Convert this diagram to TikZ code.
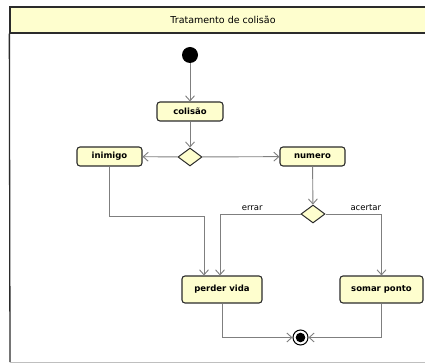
\documentclass[tikz,border=0pt]{standalone}
\usepackage{fontspec}
\setmainfont{DejaVu Sans}
\usetikzlibrary{arrows.meta, shapes.geometric}
\definecolor{umlfill}{HTML}{FEFECE}
\definecolor{umlline}{HTML}{2B2B2B}
\definecolor{flowgray}{HTML}{7F7F7F}

\begin{document}
\begin{tikzpicture}[
    x=1pt, y=-1pt,
    header/.style={
        draw=umlline,
        fill=umlfill,
        line width=1.3pt,
        minimum width=426pt,
        minimum height=26pt,
        inner sep=0pt,
        font=\fontsize{9.5}{11}\selectfont
    },
    action/.style={
        draw=umlline,
        fill=umlfill,
        rounded corners=3pt,
        line width=1.1pt,
        minimum height=19pt,
        inner sep=0pt,
        font=\fontsize{8.5}{10}\selectfont\bfseries
    },
    decision/.style={
        diamond,
        draw=umlline,
        fill=umlfill,
        line width=1pt,
        minimum width=24pt,
        minimum height=18pt,
        inner sep=0pt
    },
    flow/.style={
        -{Straight Barb[length=5pt,width=9pt]},
        draw=flowgray,
        line width=0.9pt
    },
    guard/.style={
        above,
        font=\fontsize{8.5}{10}\selectfont
    }
]
\useasboundingbox (0,0) rectangle (425,363);

% Frame
\node (title) [header] at (223,20) {Tratamento de colisão};
\draw [umlline, line width=1.3pt] (title.south west) -- (10,362);
\draw [black!25, line width=1pt] (10,362) -- (425,362);

% Nodes
\node (inicio) [circle, fill=black, minimum size=16pt, inner sep=0pt] at (190,55) {};
\node (colisao) [action, minimum width=66pt] at (190,111.5) {colisão};
\node (dec1) [decision] at (190,157) {};
\node (inimigo) [action, minimum width=65pt] at (109.5,156.5) {inimigo};
\node (numero) [action, minimum width=65pt] at (312.5,156.5) {numero};
\node (dec2) [decision] at (313,214) {};
\node (perder) [action, minimum width=80pt, minimum height=27pt] at (222,289.5) {perder vida};
\node (somar) [action, minimum width=83pt, minimum height=27pt] at (381.5,289.5) {somar ponto};
\node (fim) [circle, draw=black, fill=white, line width=1pt, minimum size=15pt, inner sep=0pt,
    path picture={\fill[black] (path picture bounding box.center) circle (4.8pt);}] at (300.5,337.5) {};
\coordinate (dobra) at (204,216);

% Paths
\draw [flow] (inicio) -- (colisao);
\draw [flow] (colisao) -- (dec1);
\draw [flow] (dec1) -- (inimigo);
\draw [flow] (dec1) -- (numero);
\draw [flow] (numero) -- (dec2);
\draw [flow] (inimigo) |- (dobra) -- (dobra |- perder.north);
\draw [flow] (dec2) -| node[guard, pos=0.3] {errar} ([xshift=-2pt]perder.north);
\draw [flow] (dec2) -| node[guard, pos=0.36] {acertar} (somar);
\draw [flow] (perder) |- (fim);
\draw [flow] (somar) |- (fim);

\end{tikzpicture}
\end{document}
